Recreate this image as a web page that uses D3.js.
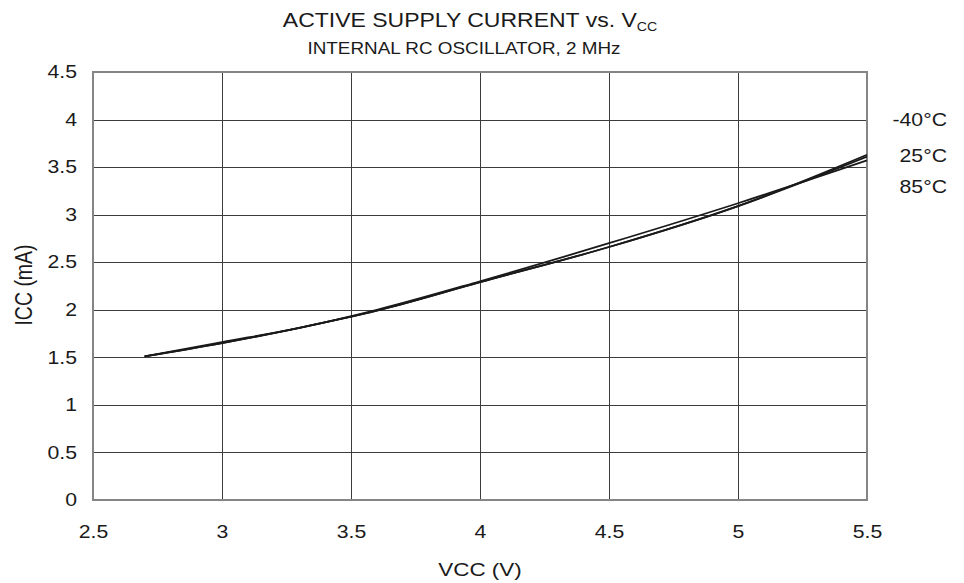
<!DOCTYPE html>
<html>
<head>
<meta charset="utf-8">
<script src="https://cdn.jsdelivr.net/npm/d3@7"></script>
<style>
  html, body { margin: 0; padding: 0; background: #fff; }
  svg { display: block; font-family: "Liberation Sans", Arial, sans-serif; }
</style>
</head>
<body>
<svg id="chart" width="964" height="583"></svg>
<script>
// Supply voltage (V) at which current was measured
const vcc = [2.7, 3.0, 3.3, 3.6, 4.0, 4.5, 5.0, 5.5];

// Active supply current (mA) per temperature
const iccM40 = [1.51, 1.65, 1.81, 1.99, 2.29, 2.66, 3.09, 3.63];
const icc25  = [1.51, 1.65, 1.81, 1.99, 2.29, 2.66, 3.09, 3.61];
const icc85  = [1.51, 1.66, 1.81, 2.00, 2.30, 2.70, 3.12, 3.57];

const seriesNames = ["-40°C", "25°C", "85°C"];
const seriesValues = [iccM40, icc25, icc85];

const xTicks = [2.5, 3, 3.5, 4, 4.5, 5, 5.5];
const yTicks = [0, 0.5, 1, 1.5, 2, 2.5, 3, 3.5, 4, 4.5];

// Text in this chart is set slightly wide
const WIDE = "scale(1.18,1)";
const INK = "#1a1a1a";

const svg = d3.select("#chart");
const m = { left: 93, right: 867, top: 72, bottom: 500 };

const x = d3.scaleLinear().domain([2.5, 5.5]).range([m.left, m.right]);
const y = d3.scaleLinear().domain([0, 4.5]).range([m.bottom, m.top]);

// Grid lines
const grid = svg.append("g").attr("shape-rendering", "crispEdges");
grid.selectAll("line.v").data(xTicks.slice(1, -1)).join("line")
  .attr("x1", d => Math.round(x(d)) + 0.5).attr("x2", d => Math.round(x(d)) + 0.5)
  .attr("y1", m.top).attr("y2", m.bottom)
  .attr("stroke", "#3c3c3c").attr("stroke-width", 1);
grid.selectAll("line.h").data(yTicks.slice(1, -1)).join("line")
  .attr("y1", d => Math.round(y(d)) + 0.5).attr("y2", d => Math.round(y(d)) + 0.5)
  .attr("x1", m.left).attr("x2", m.right)
  .attr("stroke", "#3c3c3c").attr("stroke-width", 1);

// Plot frame
svg.append("rect")
  .attr("x", m.left).attr("y", m.top)
  .attr("width", m.right - m.left).attr("height", m.bottom - m.top)
  .attr("fill", "none").attr("stroke", "#858585").attr("stroke-width", 2);

// Axes (labels only, the frame draws the lines)
const xAxis = svg.append("g")
  .attr("transform", `translate(0,${m.bottom})`)
  .call(d3.axisBottom(x).tickValues(xTicks).tickSize(0).tickPadding(25).tickFormat(d3.format("")));
const yAxis = svg.append("g")
  .attr("transform", `translate(${m.left},0)`)
  .call(d3.axisLeft(y).tickValues(yTicks).tickSize(0).tickPadding(13.5).tickFormat(d3.format("")));
[xAxis, yAxis].forEach(a => {
  a.select(".domain").remove();
  a.selectAll("text")
    .attr("font-size", 18).attr("fill", INK)
    .attr("font-family", "Liberation Sans, Arial, sans-serif")
    .attr("transform", WIDE);
});

// Current curves
const line = d3.line()
  .x((d, i) => x(vcc[i]))
  .y(d => y(d))
  .curve(d3.curveMonotoneX);
svg.append("g").selectAll("path").data(seriesValues).join("path")
  .attr("d", line)
  .attr("fill", "none")
  .attr("stroke", INK)
  .attr("stroke-width", 1.8);

// Temperature labels
const labelY = [126, 162, 193];
svg.append("g").selectAll("text").data(seriesNames).join("text")
  .attr("transform", (d, i) => `translate(947,${labelY[i]}) ${WIDE}`)
  .attr("text-anchor", "end")
  .attr("font-size", 18).attr("fill", INK)
  .text(d => d);

// Titles
const title = svg.append("text")
  .attr("transform", `translate(470,27) ${WIDE}`)
  .attr("text-anchor", "middle")
  .attr("font-size", 19.5).attr("fill", INK);
title.append("tspan").text("ACTIVE SUPPLY CURRENT vs. V");
title.append("tspan").attr("font-size", 12).attr("dy", 4).text("CC");

svg.append("text")
  .attr("transform", `translate(464,54) ${WIDE}`)
  .attr("text-anchor", "middle")
  .attr("font-size", 16).attr("fill", INK)
  .text("INTERNAL RC OSCILLATOR, 2 MHz");

svg.append("text")
  .attr("transform", `translate(480,576) ${WIDE}`)
  .attr("text-anchor", "middle")
  .attr("font-size", 19).attr("fill", INK)
  .text("VCC (V)");

svg.append("text")
  .attr("transform", `translate(32,285) ${WIDE} rotate(-90)`)
  .attr("text-anchor", "middle")
  .attr("font-size", 19.5).attr("fill", INK)
  .text("ICC (mA)");
</script>
</body>
</html>
